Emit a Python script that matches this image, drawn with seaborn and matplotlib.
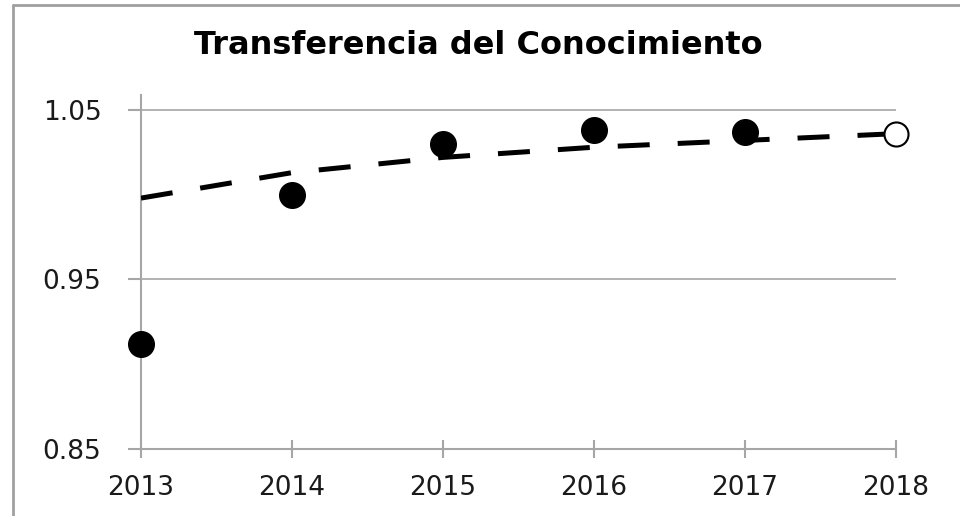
import pandas as pd
import seaborn as sns
from matplotlib import pyplot as plt
from matplotlib.lines import Line2D

sns.set_style('white')
plt.rcParams['font.family'] = ['DejaVu Sans']

# values
years = [2013, 2014, 2015, 2016, 2017, 2018]
observed_years = [2013, 2014, 2015, 2016, 2017]
observed = [0.912, 1.000, 1.030, 1.038, 1.037]
forecast_year = [2018]
forecast = [1.036]
trend = [0.998, 1.013, 1.022, 1.028, 1.032, 1.036]
y_ticks = [0.85, 0.95, 1.05]
title = 'Transferencia del Conocimiento'

grid_col = '#a6a6a6'

df_obs = pd.DataFrame({'Year': observed_years, 'Value': observed})
df_fc = pd.DataFrame({'Year': forecast_year, 'Value': forecast})
df_trend = pd.DataFrame({'Year': years, 'Value': trend})

fig = plt.figure(figsize=(9.6, 5.16), dpi=100)
ax = fig.add_axes([141 / 960, 1 - 449 / 516, 755 / 960, 354 / 516])

sns.lineplot(x='Year', y='Value', data=df_trend, ax=ax, color='black',
             linewidth=3.6, dashes=False, zorder=3)
ax.lines[0].set_dashes((6.4, 5.6))
sns.scatterplot(x='Year', y='Value', data=df_obs, ax=ax, color='black',
                s=340, edgecolor='black', linewidth=1, zorder=4,
                clip_on=False)
sns.scatterplot(x='Year', y='Value', data=df_fc, ax=ax, color='white',
                s=300, edgecolor='black', linewidth=1.5, zorder=4,
                clip_on=False)

ax.set_xlim(2013, 2018)
ax.set_ylim(0.85, 1.0588)
ax.set_xticks(years)
ax.set_xticklabels([str(y) for y in years])
ax.set_yticks(y_ticks)
ax.set_yticklabels(['0.85', '0.95', '1.05'])
ax.set_xlabel('')
ax.set_ylabel('')

for y in y_ticks[1:]:
    ax.axhline(y, color=grid_col, linewidth=1.2, zorder=1)

for side in ['top', 'right']:
    ax.spines[side].set_visible(False)
for side in ['left', 'bottom']:
    ax.spines[side].set_color(grid_col)
    ax.spines[side].set_linewidth(1.5)

# the white style hides tick marks; the reference shows them
ax.tick_params(axis='x', bottom=True, direction='inout', length=13,
               width=1.5, color=grid_col, labelsize=19, pad=12,
               labelcolor='#1a1a1a')
ax.tick_params(axis='y', left=True, direction='out', length=9.5, width=1.5,
               color=grid_col, labelsize=19, pad=19, labelcolor='#1a1a1a')

fig.text(0.498, 1 - 45 / 516, title, fontsize=23, fontweight='bold',
         color='black', ha='center', va='center')

# outer chart border (top and left edges visible in the crop)
fig.add_artist(Line2D([13 / 960, 13 / 960], [0, 1 - 5 / 516],
                      transform=fig.transFigure, color='#a0a0a0', lw=2))
fig.add_artist(Line2D([13 / 960, 1], [1 - 5 / 516, 1 - 5 / 516],
                      transform=fig.transFigure, color='#a0a0a0', lw=2))

plt.savefig('out.png', dpi=100)
plt.close()
